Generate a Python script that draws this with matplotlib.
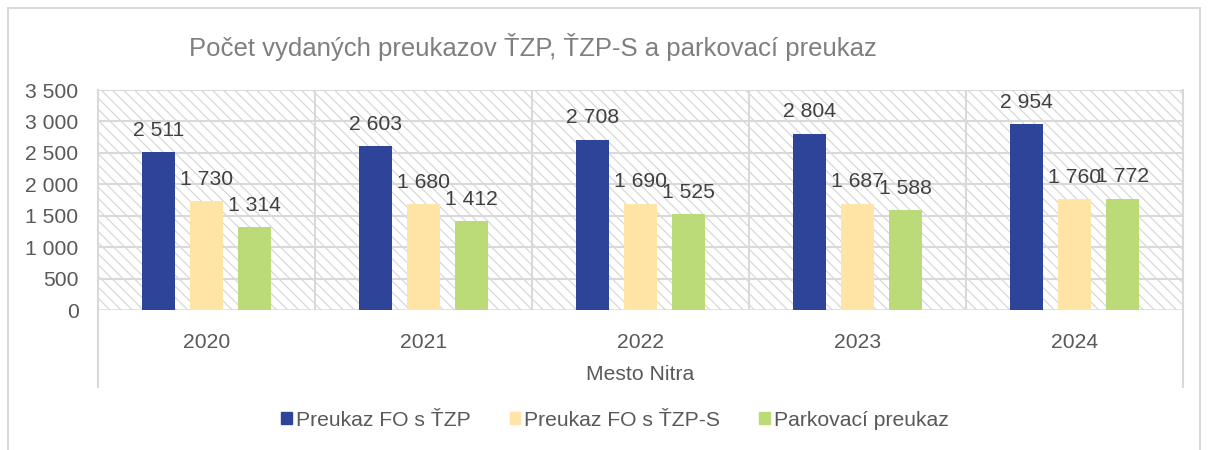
import matplotlib.pyplot as plt
from matplotlib.patches import Rectangle, Patch
import numpy as np

plt.rcParams['font.family'] = ['Liberation Sans', 'DejaVu Sans']
plt.rcParams['hatch.linewidth'] = 0.8

# data
years = ['2020', '2021', '2022', '2023', '2024']
series_names = ['Preukaz FO s ŤZP', 'Preukaz FO s ŤZP-S', 'Parkovací preukaz']
tzp = [2511, 2603, 2708, 2804, 2954]
tzp_s = [1730, 1680, 1690, 1687, 1760]
parking = [1314, 1412, 1525, 1588, 1772]
colors = ['#2E4499', '#FFE4A6', '#BBDA78']

txt = '#595959'
grid = '#d9d9d9'
fs = 15.2

def fmt(v):
    return f'{v:,}'.replace(',', ' ')

fig = plt.figure(figsize=(12.08, 4.5), dpi=100)
ax = fig.add_axes([98/1208, 1-310/450, (1183-98)/1208, 220/450])

# hatched background
ax.add_patch(Rectangle((0, 0), 1, 1, transform=ax.transAxes, facecolor='white',
                       edgecolor='#d4d4d4', hatch='\\\\\\', linewidth=0, zorder=0))

x = np.arange(len(years))
offsets = [-0.221, 0, 0.221]
width = 0.152
for vals, off, c in zip([tzp, tzp_s, parking], offsets, colors):
    bars = ax.bar(x + off, vals, width, color=c, zorder=3)
    for b, v in zip(bars, vals):
        ax.annotate(fmt(v), (b.get_x() + b.get_width()/2, v), xytext=(0, 22),
                    textcoords='offset pixels', ha='center', va='center',
                    fontsize=fs, color='#404040', zorder=4)

ax.set_xlim(-0.5, 4.5)
ax.set_ylim(0, 3500)
ax.set_yticks(range(0, 3501, 500))
ax.set_yticklabels([fmt(v) for v in range(0, 3501, 500)])
ax.tick_params(axis='y', length=0, pad=14, labelsize=fs, labelcolor=txt)
ax.set_xticks([])
for y in range(500, 3501, 500):
    ax.axhline(y, color=grid, lw=1.5, zorder=1)
for b in [0.5, 1.5, 2.5, 3.5]:
    ax.axvline(b, color=grid, lw=1.5, zorder=1)
for s in ax.spines.values():
    s.set_visible(False)
ax.axhline(0, color=grid, lw=1.8, zorder=2)
# outer category separators extend below the axis
for b in [-0.5, 4.5]:
    ax.plot([b, b], [-0.35, 1], color=grid, lw=1.5, transform=ax.get_xaxis_transform(),
            clip_on=False, zorder=2)

for i, yr in enumerate(years):
    ax.text(i, -0.15, yr, transform=ax.get_xaxis_transform(), ha='center', va='center',
            fontsize=fs, color=txt)
ax.text(0.5, -0.295, 'Mesto Nitra', transform=ax.transAxes, ha='center', va='center',
        fontsize=fs, color=txt)

fig.text(533/1208, 1-47/450, 'Počet vydaných preukazov ŤZP, ŤZP-S a parkovací preukaz',
         ha='center', va='center', fontsize=18.5, color='#7f7f7f')

handles = [Patch(color=c) for c in colors]
leg = fig.legend(handles, series_names, loc='center', bbox_to_anchor=(615/1208, 1-420/450),
                 ncol=3, frameon=False, fontsize=fs, handlelength=0.5, handleheight=0.5,
                 handletextpad=0.2, columnspacing=1.85)
for t in leg.get_texts():
    t.set_color(txt)

fig.patches.append(Rectangle((8/1208, -0.01), 1192/1208, 1-8/450+0.01,
                             transform=fig.transFigure, fill=False, edgecolor=grid, lw=1.5))

fig.savefig('out.png', dpi=100)
